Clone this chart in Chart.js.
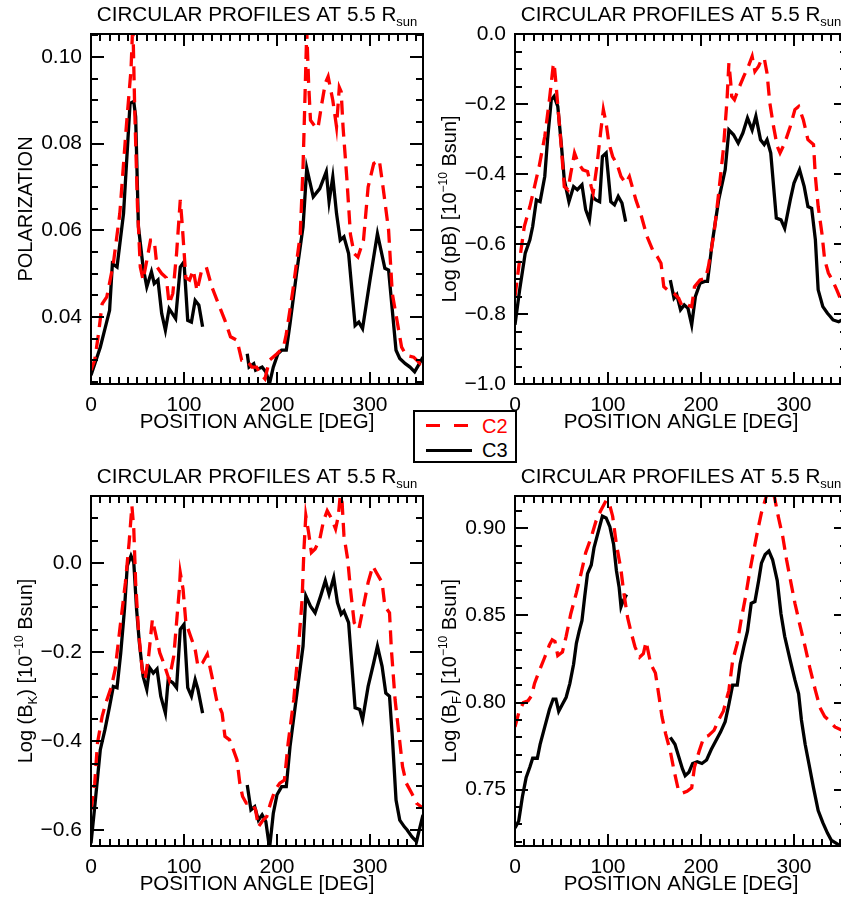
<!DOCTYPE html>
<html>
<head>
<meta charset="utf-8">
<script src="https://cdn.jsdelivr.net/npm/chart.js@4.4.1/dist/chart.umd.min.js"></script>
<style>
html, body { margin: 0; padding: 0; background: #fff; overflow: hidden; }
body { position: relative; width: 841px; height: 902px; }
.panel { position: absolute; }
#legend {
    position: absolute; left: 413px; top: 410px; width: 104px; height: 53px;
    box-sizing: border-box; border: 2px solid #000; background: #fff; z-index: 5;
    font-family: "Liberation Sans", Arial, sans-serif; font-size: 20px; line-height: 20px;
}
#legend .dash { position: absolute; left: 11px; top: 12px; width: 42px; height: 3px;
    background: repeating-linear-gradient(to right, #ff0000 0 14px, transparent 14px 28px); }
#legend .solid { position: absolute; left: 11px; top: 37px; width: 46px; height: 3px; background: #000; }
#legend .lbl { position: absolute; left: 67px; }
</style>
</head>
<body>
<canvas id="polChart" class="panel" width="430" height="440" style="left:0;top:0"></canvas>
<canvas id="pbChart" class="panel" width="430" height="440" style="left:424px;top:0"></canvas>
<canvas id="bkChart" class="panel" width="430" height="440" style="left:0;top:462px"></canvas>
<canvas id="bfChart" class="panel" width="430" height="440" style="left:424px;top:462px"></canvas>
<div id="legend">
    <span class="dash"></span><span class="lbl" style="top:4px;color:#ff0000">C2</span>
    <span class="solid"></span><span class="lbl" style="top:28px;color:#000">C3</span>
</div>
<script>
'use strict';

// Position angles (deg) and values.
// A null value marks the C3 data gap (no C3 data between ~120 and ~167 deg).

// Polarization
var polAngC2 = [0, 4, 8, 12, 17, 24, 31, 38, 43, 45,
    47, 50, 53, 56, 60, 64, 68, 71, 76, 81,
    84, 88, 92, 96, 98, 102, 106, 110, 114, 119,
    124, 130, 137, 144, 150, 157, 162, 167, 173, 178,
    182, 187, 192, 200, 207, 210, 217, 225, 228, 230,
    232, 234, 236, 241, 244, 248, 252, 255, 260, 264,
    267, 269, 271, 275, 279, 283, 287, 293, 298, 304,
    310, 314, 320, 324, 329, 334, 339, 347, 354, 357];
var polC2 = [0.0277, 0.030, 0.036, 0.043, 0.0446, 0.0523, 0.0639, 0.084, 0.097, 0.108,
    0.088, 0.0654, 0.0515, 0.0485, 0.053, 0.0577, 0.0577, 0.0515, 0.050, 0.049,
    0.043, 0.0454, 0.0546, 0.067, 0.0616, 0.049, 0.0485, 0.0508, 0.046, 0.0508,
    0.0515, 0.0469, 0.043, 0.0392, 0.0354, 0.0346, 0.030, 0.030, 0.0284, 0.0284,
    0.0269, 0.0257, 0.030, 0.0315, 0.033, 0.036, 0.046, 0.059, 0.0746, 0.090,
    0.106, 0.094, 0.0854, 0.0839, 0.0835, 0.089, 0.094, 0.0955, 0.090, 0.0839,
    0.093, 0.092, 0.0839, 0.0723, 0.059, 0.0546, 0.0538, 0.0577, 0.070, 0.0754,
    0.0762, 0.070, 0.060, 0.0454, 0.0392, 0.033, 0.0311, 0.0307, 0.0292, 0.0296];
var polAngC3 = [0, 10, 20, 23, 28, 35, 42, 46, 48, 51,
    56, 60, 65, 68, 72, 76, 80, 84, 91, 96,
    100, 104, 108, 112, 116, 120, 144, 168, 170, 175,
    177, 184, 188, 192, 196, 201, 205, 210, 214, 221,
    228, 232, 239, 246, 253, 256, 260, 264, 268, 272,
    277, 284, 288, 292, 300, 308, 316, 320, 328, 332,
    338, 343, 348, 352, 357];
var polC3 = [0.0265, 0.033, 0.0415, 0.0523, 0.0515, 0.0639, 0.0893, 0.0897, 0.0862, 0.0608,
    0.0515, 0.0469, 0.0504, 0.0477, 0.0485, 0.0408, 0.0369, 0.0419, 0.0396, 0.0515,
    0.0527, 0.0392, 0.0388, 0.0438, 0.0427, 0.0377, null, 0.0315, 0.0284, 0.0292,
    0.0277, 0.0284, 0.0273, 0.0246, 0.0284, 0.0315, 0.0323, 0.0323, 0.0384, 0.050,
    0.0608, 0.0743, 0.0677, 0.0696, 0.0735, 0.0666, 0.0723, 0.0639, 0.0577, 0.0585,
    0.0546, 0.038, 0.0388, 0.0373, 0.0485, 0.0592, 0.0512, 0.0508, 0.0323, 0.0304,
    0.0292, 0.0284, 0.0273, 0.0288, 0.0307];

// Log (pB)
var pbAngC2 = [0, 5, 10, 16, 21, 26, 32, 37, 41, 42,
    44, 47, 50, 53, 57, 60, 64, 68, 73, 78,
    82, 84, 88, 92, 95, 98, 101, 105, 110, 114,
    119, 123, 130, 135, 142, 148, 153, 157, 160, 166,
    171, 176, 180, 185, 190, 193, 199, 205, 208, 214,
    219, 224, 228, 230, 232, 233, 236, 240, 246, 251,
    255, 258, 262, 265, 268, 271, 274, 278, 282, 285,
    290, 296, 301, 305, 310, 315, 321, 323, 326, 330,
    333, 337, 342, 346, 352, 357];
var pbC2 = [-0.75, -0.645, -0.55, -0.493, -0.436, -0.378, -0.293, -0.188, -0.092, -0.083,
    -0.14, -0.235, -0.331, -0.436, -0.445, -0.398, -0.340, -0.369, -0.388, -0.393,
    -0.436, -0.455, -0.378, -0.283, -0.216, -0.255, -0.312, -0.35, -0.374, -0.407,
    -0.426, -0.407, -0.474, -0.512, -0.579, -0.617, -0.636, -0.655, -0.722, -0.736,
    -0.741, -0.755, -0.779, -0.774, -0.779, -0.722, -0.703, -0.698, -0.664, -0.569,
    -0.455, -0.331, -0.188, -0.083, -0.14, -0.178, -0.188, -0.159, -0.121, -0.092,
    -0.064, -0.107, -0.092, -0.073, -0.069, -0.112, -0.197, -0.264, -0.321, -0.34,
    -0.312, -0.264, -0.216, -0.207, -0.245, -0.302, -0.316, -0.407, -0.493, -0.569,
    -0.645, -0.683, -0.707, -0.731, -0.77, -0.80];
var pbAngC3 = [0, 5, 11, 16, 19, 23, 27, 32, 35, 39,
    42, 46, 50, 53, 58, 63, 67, 72, 76, 80,
    83, 87, 91, 94, 98, 103, 107, 111, 115, 119,
    144, 167, 171, 174, 178, 182, 186, 190, 194, 199,
    204, 207, 212, 219, 226, 230, 235, 240, 245, 250,
    255, 259, 264, 268, 271, 275, 281, 286, 290, 296,
    300, 306, 311, 315, 319, 323, 326, 331, 336, 339,
    342, 348, 353, 357];
var pbC3 = [-0.831, -0.731, -0.626, -0.588, -0.55, -0.474, -0.479, -0.407, -0.302, -0.188,
    -0.178, -0.207, -0.321, -0.417, -0.479, -0.436, -0.445, -0.431, -0.502, -0.531,
    -0.464, -0.474, -0.479, -0.350, -0.340, -0.479, -0.488, -0.464, -0.483, -0.536,
    null, -0.703, -0.755, -0.745, -0.788, -0.774, -0.784, -0.831, -0.75, -0.712,
    -0.707, -0.707, -0.598, -0.474, -0.388, -0.274, -0.288, -0.312, -0.283, -0.24,
    -0.274, -0.235, -0.302, -0.316, -0.302, -0.340, -0.526, -0.531, -0.555, -0.474,
    -0.426, -0.388, -0.436, -0.493, -0.498, -0.588, -0.731, -0.779, -0.798, -0.807,
    -0.817, -0.822, -0.815, -0.82];

// Log (B_K)
var bkAngC2 = [0, 4, 7, 12, 16, 22, 26, 31, 37, 41,
    44, 46, 48, 51, 55, 58, 62, 66, 70, 74,
    78, 84, 89, 92, 95, 96, 99, 102, 107, 112,
    115, 120, 125, 130, 135, 141, 144, 149, 153, 157,
    160, 163, 167, 173, 177, 180, 185, 189, 193, 198,
    203, 208, 212, 218, 223, 227, 229, 231, 234, 237,
    241, 246, 250, 254, 259, 263, 266, 268, 270, 272,
    276, 279, 283, 288, 293, 298, 303, 307, 313, 316,
    321, 323, 327, 331, 335, 339, 345, 350, 355, 357];
var bkC2 = [-0.554, -0.494, -0.404, -0.344, -0.314, -0.277, -0.239, -0.149, -0.044, 0.046,
    0.128, 0.076, -0.044, -0.149, -0.239, -0.262, -0.209, -0.127, -0.164, -0.202,
    -0.224, -0.262, -0.209, -0.134, -0.059, -0.022, -0.059, -0.134, -0.164, -0.194,
    -0.232, -0.224, -0.205, -0.254, -0.307, -0.337, -0.389, -0.397, -0.419, -0.442,
    -0.494, -0.524, -0.539, -0.539, -0.554, -0.592, -0.577, -0.569, -0.539, -0.509,
    -0.494, -0.487, -0.404, -0.307, -0.194, -0.082, 0.031, 0.106, 0.068, 0.023,
    0.031, 0.053, 0.094, 0.117, 0.098, 0.076, 0.106, 0.151, 0.136, 0.061,
    0.008, -0.059, -0.134, -0.149, -0.097, -0.044, -0.007, -0.022, -0.044, -0.097,
    -0.112, -0.194, -0.307, -0.382, -0.457, -0.494, -0.517, -0.539, -0.547, -0.55];
var bkAngC3 = [0, 4, 10, 15, 20, 24, 28, 32, 36, 39,
    43, 46, 49, 52, 56, 60, 63, 67, 71, 75,
    80, 83, 88, 92, 96, 100, 104, 108, 112, 115,
    120, 144, 168, 172, 176, 180, 184, 188, 192, 196,
    200, 205, 210, 214, 221, 228, 231, 236, 241, 247,
    252, 256, 261, 265, 269, 272, 277, 284, 289, 292,
    298, 304, 308, 313, 317, 321, 324, 328, 332, 337,
    340, 345, 350, 353, 357];
var bkC3 = [-0.629, -0.547, -0.419, -0.374, -0.322, -0.277, -0.280, -0.202, -0.104, -0.007,
    0.016, 0.001, -0.104, -0.179, -0.254, -0.284, -0.235, -0.247, -0.238, -0.299,
    -0.337, -0.262, -0.269, -0.280, -0.149, -0.138, -0.280, -0.299, -0.262, -0.284,
    -0.337, null, -0.498, -0.554, -0.547, -0.577, -0.565, -0.580, -0.64, -0.562,
    -0.520, -0.502, -0.502, -0.412, -0.299, -0.187, -0.074, -0.097, -0.112, -0.074,
    -0.040, -0.070, -0.033, -0.089, -0.115, -0.108, -0.134, -0.325, -0.329, -0.352,
    -0.277, -0.224, -0.187, -0.232, -0.292, -0.299, -0.389, -0.532, -0.577, -0.592,
    -0.599, -0.614, -0.625, -0.599, -0.565];

// Log (B_F)
var bfAngC2 = [0, 4, 9, 14, 18, 21, 26, 32, 37, 40,
    43, 46, 51, 55, 60, 66, 71, 76, 82, 87,
    92, 98, 101, 105, 109, 114, 117, 121, 125, 129,
    134, 138, 141, 146, 151, 155, 158, 162, 167, 171,
    176, 180, 185, 190, 193, 198, 203, 208, 214, 219,
    224, 230, 234, 239, 243, 248, 252, 257, 261, 265,
    270, 274, 279, 283, 288, 292, 297, 301, 307, 312,
    317, 323, 328, 333, 339, 344, 352, 357];
var bfC2 = [0.786, 0.794, 0.800, 0.801, 0.804, 0.811, 0.818, 0.826, 0.833, 0.836,
    0.835, 0.827, 0.829, 0.838, 0.851, 0.863, 0.874, 0.886, 0.895, 0.904,
    0.910, 0.916, 0.915, 0.907, 0.891, 0.876, 0.863, 0.849, 0.840, 0.832,
    0.826, 0.828, 0.835, 0.822, 0.817, 0.803, 0.792, 0.782, 0.772, 0.761,
    0.749, 0.748, 0.749, 0.751, 0.763, 0.772, 0.780, 0.781, 0.784, 0.790,
    0.795, 0.807, 0.824, 0.834, 0.847, 0.861, 0.874, 0.888, 0.899, 0.909,
    0.918, 0.923, 0.918, 0.907, 0.895, 0.882, 0.868, 0.857, 0.843, 0.832,
    0.820, 0.807, 0.797, 0.792, 0.789, 0.786, 0.784, 0.783];
var bfAngC3 = [0, 4, 8, 12, 16, 19, 24, 27, 32, 37,
    41, 44, 47, 51, 55, 59, 63, 66, 69, 72,
    75, 78, 82, 85, 90, 94, 98, 102, 106, 109,
    112, 114, 116, 120, 144, 167, 172, 176, 180, 183,
    187, 191, 196, 201, 206, 211, 216, 221, 226, 230,
    234, 239, 242, 246, 250, 254, 258, 262, 265, 269,
    273, 277, 282, 286, 290, 296, 301, 305, 308, 312,
    316, 321, 326, 331, 336, 340, 346, 352, 357];
var bfC3 = [0.728, 0.732, 0.746, 0.757, 0.763, 0.768, 0.768, 0.776, 0.786, 0.796,
    0.802, 0.802, 0.795, 0.799, 0.803, 0.811, 0.822, 0.834, 0.841, 0.847,
    0.861, 0.874, 0.879, 0.889, 0.899, 0.907, 0.906, 0.901, 0.891, 0.876,
    0.866, 0.855, 0.858, 0.862, null, 0.780, 0.776, 0.769, 0.762, 0.758,
    0.760, 0.765, 0.766, 0.765, 0.767, 0.773, 0.778, 0.783, 0.789, 0.799,
    0.810, 0.810, 0.822, 0.832, 0.841, 0.857, 0.858, 0.870, 0.880, 0.885,
    0.887, 0.882, 0.870, 0.851, 0.838, 0.824, 0.813, 0.805, 0.790, 0.776,
    0.765, 0.751, 0.738, 0.731, 0.725, 0.721, 0.719, 0.717, 0.716];

var FONT = '"Liberation Sans", Arial, Helvetica, sans-serif';

// Title / axis label pieces (sub- and superscripts drawn smaller and offset)
var titleParts = [{ t: 'CIRCULAR PROFILES AT 5.5 R', size: 20.7 }, { t: 'sun', size: 13, dy: 5 }];
var yPolParts  = [{ t: 'POLARIZATION' }];
var yPbParts   = [{ t: 'Log (pB) [10' }, { t: '\u221210', size: 12, dy: -9 }, { t: ' Bsun]' }];
var yBkParts   = [{ t: 'Log (B' }, { t: 'K', size: 13, dy: 5 }, { t: ') [10' }, { t: '\u221210', size: 12, dy: -9 }, { t: ' Bsun]' }];
var yBfParts   = [{ t: 'Log (B' }, { t: 'F', size: 13, dy: 5 }, { t: ') [10' }, { t: '\u221210', size: 12, dy: -9 }, { t: ' Bsun]' }];

function toPoints(angles, values) {
    return angles.map(function (a, i) { return { x: a, y: values[i] }; });
}

function partsWidth(ctx, parts) {
    var w = 0;
    parts.forEach(function (p) {
        ctx.font = (p.size || 20) + 'px ' + FONT;
        w += ctx.measureText(p.t).width;
    });
    return w;
}

function drawParts(ctx, parts, x, y) {
    parts.forEach(function (p) {
        ctx.font = (p.size || 20) + 'px ' + FONT;
        ctx.fillText(p.t, x, y + (p.dy || 0));
        x += ctx.measureText(p.t).width;
    });
}

function eachStep(min, max, step, fn) {
    for (var k = Math.ceil(min / step - 1e-6); k * step <= max + 1e-9; k++) {
        fn(k * step);
    }
}

function isMultiple(v, step) {
    return Math.abs(v / step - Math.round(v / step)) < 1e-6;
}

// IDL style frame: box round the plot with inward major/minor ticks on all sides
var idlFrame = {
    id: 'idlFrame',
    afterDatasetsDraw: function (chart, args, opts) {
        var ctx = chart.ctx;
        var a   = chart.chartArea;
        var x   = chart.scales.x;
        var y   = chart.scales.y;

        ctx.save();
        ctx.strokeStyle = '#000';
        ctx.lineWidth = 2;
        ctx.strokeRect(a.left, a.top, a.right - a.left, a.bottom - a.top);

        ctx.beginPath();
        eachStep(x.min, x.max, 10, function (v) {
            var len = isMultiple(v, 100) ? 12 : 7;
            var px  = Math.round(x.getPixelForValue(v));
            ctx.moveTo(px, a.bottom);
            ctx.lineTo(px, a.bottom - len);
            ctx.moveTo(px, a.top);
            ctx.lineTo(px, a.top + len);
        });
        eachStep(y.min, y.max, opts.minor, function (v) {
            var len = isMultiple(v, opts.major) ? 13 : 7;
            var py  = Math.round(y.getPixelForValue(v));
            ctx.moveTo(a.left, py);
            ctx.lineTo(a.left + len, py);
            ctx.moveTo(a.right, py);
            ctx.lineTo(a.right - len, py);
        });
        ctx.stroke();
        ctx.restore();
    }
};

// Title above the plot and rotated y title, both with sub/superscripts
var richLabels = {
    id: 'richLabels',
    afterDraw: function (chart, args, opts) {
        var ctx = chart.ctx;
        var a   = chart.chartArea;

        ctx.save();
        ctx.fillStyle = '#000';
        ctx.textBaseline = 'alphabetic';
        ctx.textAlign = 'left';

        var tw = partsWidth(ctx, opts.title);
        drawParts(ctx, opts.title, (a.left + a.right) / 2 - tw / 2, 20.5);

        var yw = partsWidth(ctx, opts.yTitle);
        ctx.translate(32, (a.top + a.bottom) / 2);
        ctx.rotate(-Math.PI / 2);
        drawParts(ctx, opts.yTitle, -yw / 2, 0);
        ctx.restore();
    }
};

function makePanel(id, p) {
    return new Chart(document.getElementById(id), {
        type: 'line',
        data: {
            datasets: [
                {
                    label: 'C2',
                    data: toPoints(p.angC2, p.valC2),
                    borderColor: '#ff0000',
                    borderWidth: 3.3,
                    borderDash: [14, 8],
                    pointRadius: 0,
                    tension: 0
                },
                {
                    label: 'C3',
                    data: toPoints(p.angC3, p.valC3),
                    borderColor: '#000000',
                    borderWidth: 3.3,
                    pointRadius: 0,
                    tension: 0,
                    spanGaps: false
                }
            ]
        },
        options: {
            responsive: false,
            animation: false,
            events: [],
            layout: { padding: { top: 34, right: 7, left: 0, bottom: 0 } },
            plugins: {
                legend: { display: false },
                tooltip: { enabled: false },
                idlFrame: { major: p.major, minor: p.minor },
                richLabels: { title: titleParts, yTitle: p.yTitle }
            },
            scales: {
                x: {
                    type: 'linear',
                    min: 0,
                    max: 357,
                    grid: { display: false, drawTicks: false },
                    border: { display: false },
                    afterFit: function (scale) { scale.height = 56; },
                    ticks: {
                        stepSize: 100,
                        includeBounds: false,
                        maxRotation: 0,
                        padding: 9,
                        color: '#000',
                        font: { family: FONT, size: 21 }
                    },
                    title: {
                        display: true,
                        text: 'POSITION ANGLE [DEG]',
                        color: '#000',
                        font: { family: FONT, size: 20.5 },
                        padding: { top: 0, bottom: 5 }
                    }
                },
                y: {
                    type: 'linear',
                    min: p.min,
                    max: p.max,
                    grid: { display: false, drawTicks: false },
                    border: { display: false },
                    afterFit: function (scale) { scale.width = 91; },
                    ticks: {
                        stepSize: p.major,
                        includeBounds: false,
                        padding: 9,
                        color: '#000',
                        font: { family: FONT, size: 21 },
                        callback: function (v) {
                            if (Math.abs(v) < 1e-9) {
                                v = 0;
                            }
                            return v.toFixed(p.decimals).replace('-', '\u2212');
                        }
                    }
                }
            }
        },
        plugins: [idlFrame, richLabels]
    });
}

makePanel('polChart', {
    angC2: polAngC2, valC2: polC2, angC3: polAngC3, valC3: polC3,
    min: 0.0245, max: 0.1053, major: 0.02, minor: 0.005, decimals: 2, yTitle: yPolParts
});
makePanel('pbChart', {
    angC2: pbAngC2, valC2: pbC2, angC3: pbAngC3, valC3: pbC3,
    min: -1.0, max: 0.0, major: 0.2, minor: 0.05, decimals: 1, yTitle: yPbParts
});
makePanel('bkChart', {
    angC2: bkAngC2, valC2: bkC2, angC3: bkAngC3, valC3: bkC3,
    min: -0.635, max: 0.15, major: 0.2, minor: 0.05, decimals: 1, yTitle: yBkParts
});
makePanel('bfChart', {
    angC2: bfAngC2, valC2: bfC2, angC3: bfAngC3, valC3: bfC3,
    min: 0.7176, max: 0.9186, major: 0.05, minor: 0.01, decimals: 2, yTitle: yBfParts
});
</script>
</body>
</html>
